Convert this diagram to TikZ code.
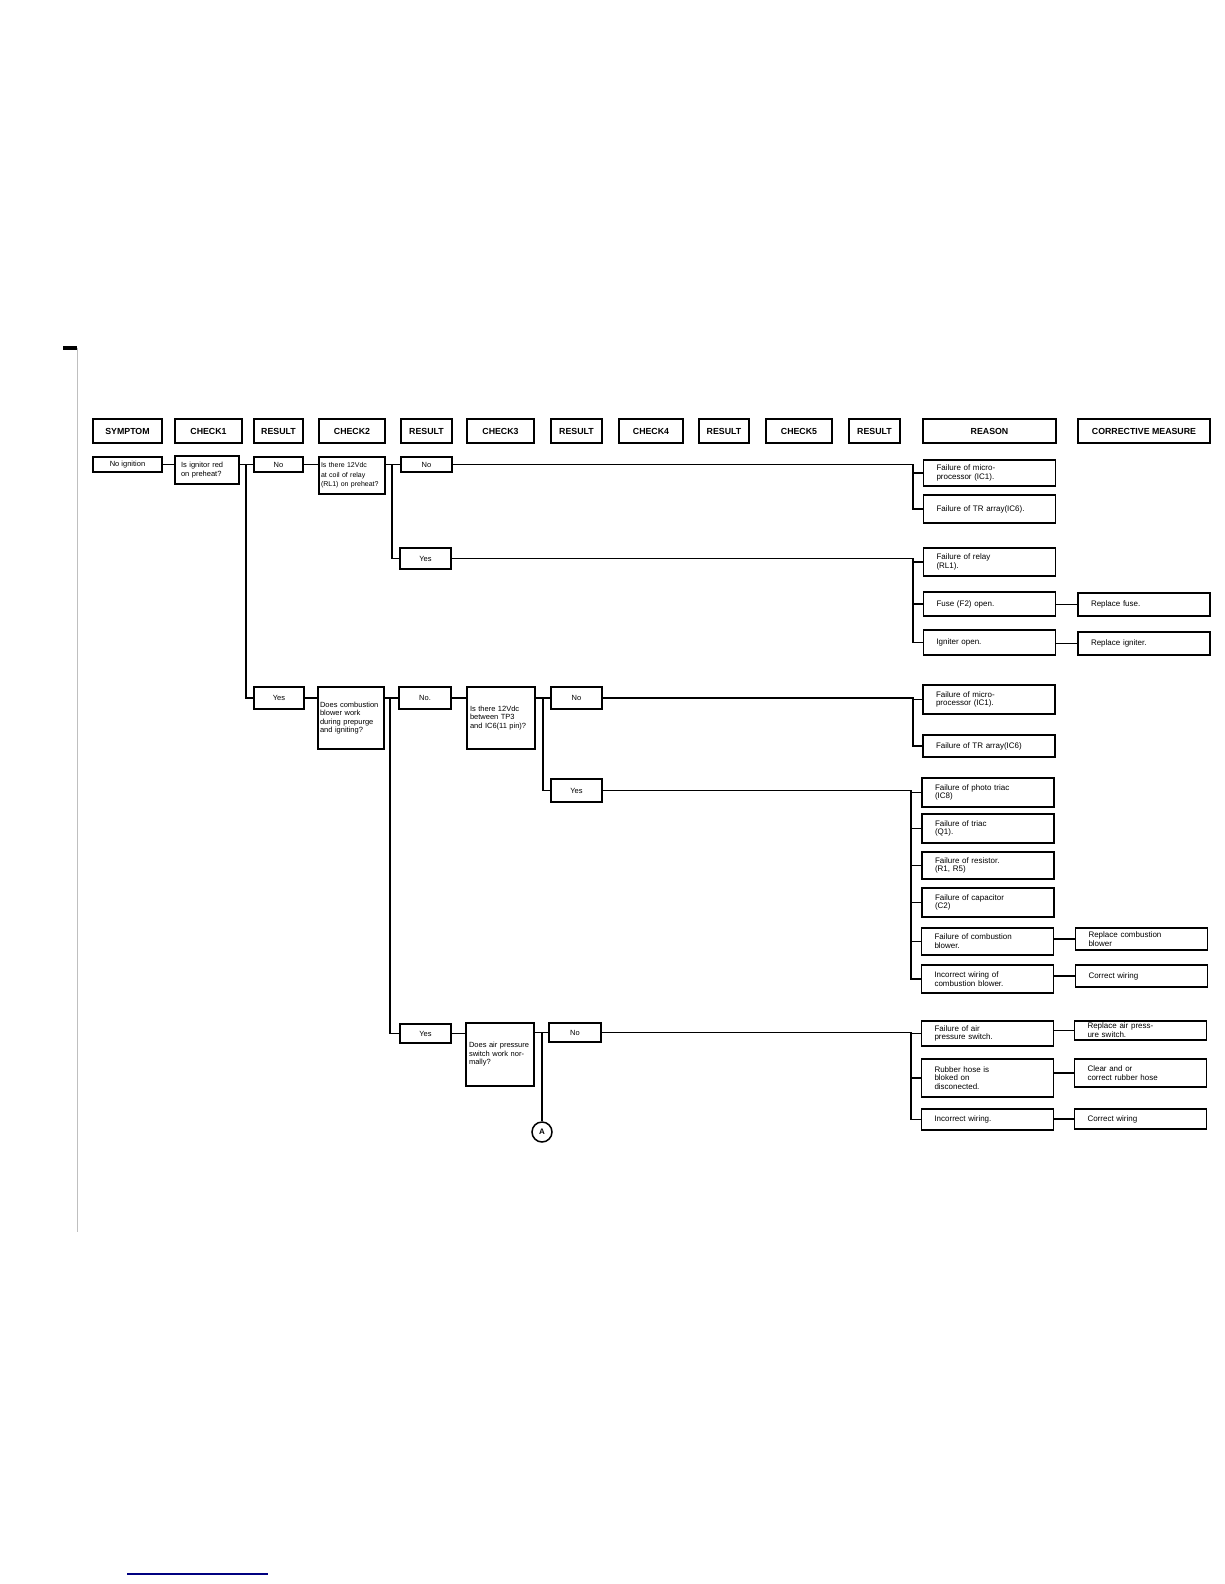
\documentclass[tikz,border=0pt]{standalone}
\usepackage{fontspec}
\setmainfont{Liberation Sans}
\begin{document}
\begin{tikzpicture}[x=1pt, y=-1pt,
    hdr/.style={draw, line width=1.8pt, minimum height=24pt, inner sep=0pt, font=\fontsize{8.8}{10}\selectfont\bfseries},
    res/.style={draw, line width=1.5pt, inner sep=0pt, font=\fontsize{7.5}{8.5}\selectfont},
    chk/.style={draw, line width=1.5pt, inner xsep=2pt, inner ysep=0pt, align=left, font=\fontsize{7.5}{8.5}\selectfont},
    rsn/.style={draw, line width=1.5pt, inner xsep=13pt, inner ysep=0pt, text width=106pt, align=left, font=\fontsize{8}{8.8}\selectfont},
    link/.style={line width=1.2pt}]
    \useasboundingbox (0,0) rectangle (1224,1584);
    % scan marks
    \fill (63,346) rectangle (77,350);
    \draw[gray!50, line width=0.6pt] (77,348) -- (77,1232);
    \draw[blue!50!black, line width=1.2pt] (127,1574) -- (268,1574);
    % header row
    \node[hdr, minimum width=69pt] (hSym) at (127.5,431) {SYMPTOM};
    \node[hdr, minimum width=67pt] (hChkA) at (208.5,431) {CHECK1};
    \node[hdr, minimum width=49pt] (hResA) at (278.5,431) {RESULT};
    \node[hdr, minimum width=66pt] (hChkB) at (352,431) {CHECK2};
    \node[hdr, minimum width=51pt] (hResB) at (426.5,431) {RESULT};
    \node[hdr, minimum width=67pt] (hChkC) at (500.5,431) {CHECK3};
    \node[hdr, minimum width=51pt] (hResC) at (576.5,431) {RESULT};
    \node[hdr, minimum width=64pt] (hChkD) at (651,431) {CHECK4};
    \node[hdr, minimum width=50pt] (hResD) at (724,431) {RESULT};
    \node[hdr, minimum width=66pt] (hChkE) at (799,431) {CHECK5};
    \node[hdr, minimum width=51pt] (hResE) at (874.5,431) {RESULT};
    \node[hdr, minimum width=133pt] (hReason) at (989.5,431) {REASON};
    \node[hdr, minimum width=132pt] (hFix) at (1144,431) {CORRECTIVE MEASURE};
    % symptom and first check
    \node[res, minimum width=69pt, minimum height=15pt] (sym) at (127.5,464.5) {No ignition};
    \node[chk, text width=52pt, inner xsep=6pt, minimum height=28pt] (c1) at (207,470) {Is ignitor red\\on preheat?};
    \node[res, minimum width=49pt, minimum height=15pt] (no1) at (278.5,464.5) {No};
    \node[res, minimum width=50pt, minimum height=22pt] (yes1) at (279,698) {Yes};
    % ignitor not red
    \node[chk, text width=62pt, minimum height=37pt, font=\fontsize{7}{9.5}\selectfont] (c2a) at (352,475.5) {Is there 12Vdc\\at coil of relay\\(RL1) on preheat?};
    \node[res, minimum width=51pt, minimum height=15pt] (no2) at (426.5,464.5) {No};
    \node[res, minimum width=51pt, minimum height=21pt] (yes2) at (425.5,558.5) {Yes};
    \node[rsn, minimum height=26pt] (rA) at (989.5,473) {Failure of micro-\\processor (IC1).};
    \node[rsn, minimum height=28pt] (rB) at (989.5,509) {Failure of TR array(IC6).};
    \node[rsn, minimum height=28pt] (rC) at (989.5,562) {Failure of relay\\(RL1).};
    \node[rsn, minimum height=24pt] (rD) at (989.5,604) {Fuse (F2) open.};
    \node[rsn, minimum height=25pt] (rE) at (989.5,642.5) {Igniter open.};
    \node[rsn, minimum height=23pt] (fD) at (1144,604.5) {Replace fuse.};
    \node[rsn, minimum height=23pt] (fE) at (1144,643.5) {Replace igniter.};
    % ignitor red: combustion blower
    \node[chk, text width=62pt, minimum height=62pt] (c2b) at (351,718) {Does combustion\\blower work\\during prepurge\\and igniting?};
    \node[res, minimum width=52pt, minimum height=22pt] (no3) at (425,698) {No.};
    \node[res, minimum width=51pt, minimum height=19pt] (yes3) at (425.5,1033.5) {Yes};
    \node[chk, text width=62pt, inner xsep=3pt, minimum height=62pt] (c3a) at (501,718) {Is there 12Vdc\\between TP3\\and IC6(11 pin)?};
    \node[res, minimum width=51pt, minimum height=22pt] (no4) at (576.5,698) {No};
    \node[res, minimum width=51pt, minimum height=23pt] (yes4) at (576.5,790.5) {Yes};
    \node[rsn, minimum height=29pt] (rF) at (989,699.5) {Failure of micro-\\processor (IC1).};
    \node[rsn, minimum height=22pt] (rG) at (989,746) {Failure of TR array(IC6)};
    \node[rsn, minimum height=29pt] (rH) at (988,792.5) {Failure of photo triac\\(IC8)};
    \node[rsn, minimum height=29pt] (rI) at (988,828.5) {Failure of triac\\(Q1).};
    \node[rsn, minimum height=27pt] (rJ) at (988,865.5) {Failure of resistor.\\(R1, R5)};
    \node[rsn, minimum height=29pt] (rK) at (988,902.5) {Failure of capacitor\\(C2)};
    \node[rsn, minimum height=27pt] (rL) at (987.5,941.5) {Failure of combustion\\blower.};
    \node[rsn, minimum height=28pt] (rM) at (987.5,979) {Incorrect wiring of\\combustion blower.};
    \node[rsn, minimum height=22pt] (fL) at (1141.5,939) {Replace combustion\\blower};
    \node[rsn, minimum height=22pt] (fM) at (1141.5,976) {Correct wiring};
    % air pressure switch
    \node[chk, text width=62pt, inner xsep=3pt, minimum height=63pt] (c3b) at (500,1054.5) {Does air pressure\\switch work nor-\\mally?};
    \node[res, minimum width=52pt, minimum height=19pt] (no5) at (575,1032.5) {No};
    \node[draw, circle, line width=1.5pt, minimum size=20pt, inner sep=0pt, font=\fontsize{8}{9}\selectfont\bfseries] (conA) at (542,1132) {A};
    \node[rsn, minimum height=25pt] (rN) at (987.5,1033.5) {Failure of air\\pressure switch.};
    \node[rsn, minimum height=38pt] (rO) at (987.5,1078) {Rubber hose is\\bloked on\\disconected.};
    \node[rsn, minimum height=21pt] (rP) at (987.5,1119.5) {Incorrect wiring.};
    \node[rsn, minimum height=19pt] (fN) at (1140.5,1030.5) {Replace air press-\\ure switch.};
    \node[rsn, minimum height=28pt] (fO) at (1140.5,1073) {Clear and or\\correct rubber hose};
    \node[rsn, minimum height=20pt] (fP) at (1140.5,1119) {Correct wiring};
    % junctions
    \coordinate (j1) at (246,464.5);
    \coordinate (j2) at (392,464.5);
    \coordinate (j3) at (913,464.5);
    \coordinate (j4) at (390,698);
    \coordinate (j5) at (543,698);
    \coordinate (j6) at (913,698);
    \coordinate (j7) at (911,790.5);
    \coordinate (j8) at (542,1032.5);
    \coordinate (j9) at (911,1032.5);
    % connectors, top branch
    \draw[link] (sym.east) -- (sym.east -| c1.west);
    \draw[link] (c1.east |- no1) -- (no1.west);
    \draw[link] (j1) |- (yes1.west);
    \draw[link] (no1.east) -- (no1.east -| c2a.west);
    \draw[link] (c2a.east |- no2) -- (no2.west);
    \draw[link] (j2) |- (yes2.west);
    \draw[link] (no2.east) -- (j3) |- (rA.west);
    \draw[link] (j3) |- (rB.west);
    \draw[link] (yes2.east) -- (yes2.east -| j3) |- (rC.west);
    \draw[link] (yes2.east -| j3) |- (rD.west);
    \draw[link] (yes2.east -| j3) |- (rE.west);
    \draw[link] (rD.east |- fD) -- (fD.west);
    \draw[link] (rE.east |- fE) -- (fE.west);
    % connectors, combustion blower branch
    \draw[link] (yes1.east) -- (yes1.east -| c2b.west);
    \draw[link] (c2b.east |- no3) -- (no3.west);
    \draw[link] (j4) |- (yes3.west);
    \draw[link] (no3.east) -- (no3.east -| c3a.west);
    \draw[link] (c3a.east |- no4) -- (no4.west);
    \draw[link] (j5) |- (yes4.west);
    \draw[link] (no4.east) -- (j6) |- (rF.west);
    \draw[link] (j6) |- (rG.west);
    \draw[link] (yes4.east) -- (j7) |- (rH.west);
    \draw[link] (j7) |- (rI.west);
    \draw[link] (j7) |- (rJ.west);
    \draw[link] (j7) |- (rK.west);
    \draw[link] (j7) |- (rL.west);
    \draw[link] (j7) |- (rM.west);
    \draw[link] (rL.east |- fL) -- (fL.west);
    \draw[link] (rM.east |- fM) -- (fM.west);
    % connectors, air pressure branch
    \draw[link] (yes3.east) -- (yes3.east -| c3b.west);
    \draw[link] (c3b.east |- no5) -- (no5.west);
    \draw[link] (j8) -- (conA.north);
    \draw[link] (no5.east) -- (j9) |- (rN.west);
    \draw[link] (j9) |- (rO.west);
    \draw[link] (j9) |- (rP.west);
    \draw[link] (rN.east |- fN) -- (fN.west);
    \draw[link] (rO.east |- fO) -- (fO.west);
    \draw[link] (rP.east |- fP) -- (fP.west);
\end{tikzpicture}
\end{document}
